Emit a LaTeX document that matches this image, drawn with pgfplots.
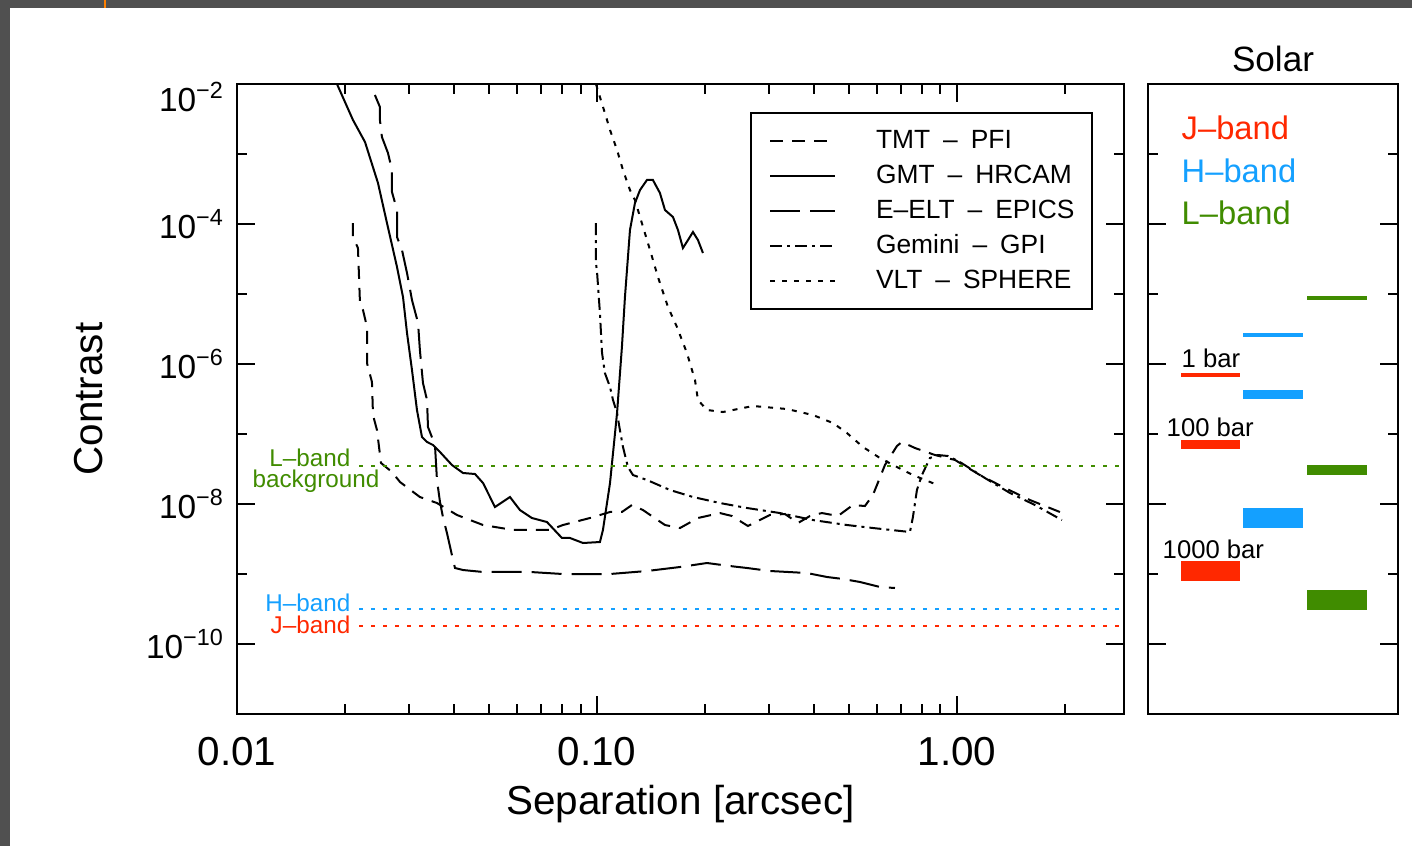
\documentclass[border=0pt]{standalone}
\usepackage{fontspec}
\setmainfont{Liberation Sans}
\usepackage{pgfplots}
\pgfplotsset{compat=1.18}
\definecolor{jred}{RGB}{255,40,0}
\definecolor{hblue}{RGB}{20,160,255}
\definecolor{lgreen}{RGB}{64,140,0}
\definecolor{frame}{RGB}{80,80,80}
\begin{document}
\begin{tikzpicture}
\useasboundingbox (0,0) rectangle (141.2mm,84.6mm);
\fill[white] (0,0) rectangle (141.2mm,84.6mm);
\fill[frame] (0,83.8mm) rectangle (141.2mm,84.6mm);
\fill[frame] (0,0) rectangle (1.0mm,84.6mm);
\fill[orange] (10.4mm,83.8mm) rectangle (10.6mm,84.6mm);
\begin{axis}[
  at={(23.7mm,13.2mm)}, anchor=south west,
  scale only axis, width=88.7mm, height=63mm,
  xmode=log, ymode=log,
  xmin=0.01, xmax=2.911, ymin=1e-11, ymax=1e-2,
  xtick={0.01,0.1,1}, xticklabels={0.01,0.10,1.00},
  minor xtick={0.02,0.03,0.04,0.05,0.06,0.07,0.08,0.09,0.2,0.3,0.4,0.5,0.6,0.7,0.8,0.9,2},
  ytick={1e-10,1e-8,1e-6,1e-4,1e-2},
  yticklabels={10\textsuperscript{−10},10\textsuperscript{−8},10\textsuperscript{−6},10\textsuperscript{−4},\raisebox{-1.3mm}[\height][\depth]{10\textsuperscript{−2}}},
  minor ytick={1e-9,1e-7,1e-5,1e-3},
  major tick length=1.8mm, minor tick length=1mm,
  tick align=inside,
  axis line style={line width=0.2mm},
  every tick/.style={black, line width=0.2mm},
  /pgf/number format/assume math mode=true,
  xticklabel style={font=\fontsize{11.5}{13}\selectfont, yshift=-1.1mm},
  yticklabel style={font=\fontsize{9.5}{11}\selectfont},
  xlabel={Separation [arcsec]}, ylabel={Contrast},
  label style={font=\fontsize{11.5}{13}\selectfont},
  xlabel style={yshift=0.5mm},
  ylabel style={yshift=1.9mm},
  legend style={at={(0.5784,0.9556)}, anchor=north west, draw=black, line width=0.2mm,
    inner xsep=1.8mm, inner ysep=1.6mm, font=\fontsize{7.5}{9}\selectfont,
    row sep=0.98mm, nodes={inner sep=0pt, text height=2.0mm, text depth=0.5mm},
    /tikz/every odd column/.append style={column sep=4mm}},
  legend cell align=left,
  legend image code/.code={\draw[#1] (0mm,0mm) -- (6.5mm,0mm);},
]
% TMT - PFI
\addplot[black, line width=0.2mm, dash pattern=on 1.3mm off 0.9mm] coordinates {
(0.02100,1.033e-4) (0.02100,6.52e-5) (0.02168,4.54e-5) (0.02196,7.43e-6) (0.02239,5.90e-6)
(0.02297,3.38e-6) (0.02297,1.033e-6) (0.02371,5.53e-7) (0.02387,1.866e-7) (0.02448,1.140e-7)
(0.02512,3.855e-8) (0.02695,2.864e-8) (0.02837,2.061e-8) (0.03222,1.259e-8) (0.03594,1.033e-8)
(0.04084,6.97e-9) (0.04825,5.01e-9) (0.05843,4.26e-9) (0.07402,4.26e-9) (0.08043,5.01e-9)
(0.09563,6.31e-9) (0.1087,7.69e-9) (0.1173,7.69e-9) (0.1251,9.68e-9) (0.1342,8.20e-9)
(0.1545,5.01e-9) (0.1701,4.54e-9) (0.1908,6.31e-9) (0.2196,7.43e-9) (0.2371,6.74e-9)
(0.2627,4.85e-9) (0.3024,6.97e-9) (0.3328,7.20e-9) (0.3617,5.35e-9) (0.3906,6.74e-9)
(0.4217,7.43e-9) (0.4671,6.74e-9) (0.5140,9.68e-9) (0.5551,9.36e-9) (0.5843,1.346e-8)
(0.5995,1.866e-8) (0.6310,3.61e-8) (0.6813,6.74e-8) (0.7035,7.69e-8) (0.7644,6.31e-8)
(0.8689,5.01e-8) (0.9873,4.26e-8) (1.158,2.594e-8) (1.359,1.694e-8) (1.595,1.140e-8) (1.932,7.69e-9)
};
\addlegendentry{\makebox[19.8mm][l]{TMT\hspace{1.3mm}–\hspace{1.3mm}PFI}}
% GMT - HRCAM
\addplot[black, line width=0.2mm, solid] coordinates {
(0.01896,1e-2) (0.02100,3.06e-3) (0.02268,1.483e-3) (0.02464,3.855e-4) (0.02610,1.033e-4)
(0.02783,2.432e-5) (0.02892,9.06e-6) (0.02967,2.773e-6) (0.03063,8.20e-7) (0.03162,2.203e-7)
(0.03265,9.06e-8) (0.03372,7.69e-8) (0.03503,6.97e-8) (0.03664,5.53e-8) (0.03955,3.61e-8)
(0.04245,2.773e-8) (0.04583,2.683e-8) (0.04825,1.995e-8) (0.05208,9.06e-9) (0.05732,1.259e-8)
(0.0611,8.20e-9) (0.06597,6.31e-9) (0.07262,5.53e-9) (0.07993,3.27e-9) (0.08414,3.27e-9)
(0.09145,2.773e-9) (0.1019,2.864e-9) (0.1039,4.26e-9) (0.1087,1.995e-8) (0.1137,1.995e-7)
(0.1173,1.750e-6) (0.1196,9.06e-6) (0.1235,8.20e-5) (0.1275,1.995e-4) (0.1317,3.06e-4)
(0.1377,4.26e-4) (0.1430,4.26e-4) (0.1496,2.773e-4) (0.1545,1.585e-4) (0.1626,1.259e-4)
(0.1679,8.20e-5) (0.1733,4.54e-5) (0.1790,5.90e-5) (0.1848,7.69e-5) (0.1908,5.90e-5) (0.1970,3.855e-5)
};
\addlegendentry{\makebox[19.8mm][l]{GMT\hspace{1.3mm}–\hspace{1.3mm}HRCAM}}
% E-ELT - EPICS
\addplot[black, line width=0.2mm, dash pattern=on 3mm off 1mm] coordinates {
(0.02416,6.97e-3) (0.02495,4.69e-3) (0.02495,3.06e-3) (0.02527,1.750e-3) (0.02627,1.033e-3)
(0.02695,5.90e-4) (0.02695,2.864e-4) (0.02783,1.585e-4) (0.02783,6.52e-5) (0.02873,4.26e-5)
(0.02967,1.995e-5) (0.03063,8.20e-6) (0.03184,3.855e-6) (0.03222,1.585e-6) (0.03286,5.36e-7)
(0.03372,3.06e-7) (0.03393,1.259e-7) (0.03548,6.97e-8) (0.03594,2.203e-8) (0.03664,1.069e-8)
(0.03734,6.52e-9) (0.03831,3.855e-9) (0.03955,1.866e-9) (0.04032,1.219e-9) (0.04245,1.140e-9)
(0.04825,1.069e-9) (0.06515,1.069e-9) (0.08043,1.0e-9) (0.1087,1.0e-9) (0.1377,1.104e-9)
(0.1701,1.259e-9) (0.2021,1.436e-9) (0.2341,1.300e-9) (0.2610,1.219e-9) (0.3024,1.104e-9)
(0.3831,1.033e-9) (0.4355,9.06e-10) (0.4825,8.49e-10) (0.5379,7.69e-10) (0.6110,6.52e-10) (0.6727,6.31e-10)
};
\addlegendentry{\makebox[19.8mm][l]{E–ELT\hspace{1.3mm}–\hspace{1.3mm}EPICS}}
% Gemini - GPI
\addplot[black, line width=0.2mm, dash pattern=on 1.2mm off 0.5mm on 0.3mm off 0.5mm] coordinates {
(0.09936,1.033e-4) (0.09936,2.773e-5) (0.1001,1.995e-5) (0.1019,5.36e-6) (0.1033,1.436e-6)
(0.1052,7.43e-7) (0.1087,4.69e-7) (0.1108,3.06e-7) (0.1137,1.995e-7) (0.1158,1.140e-7)
(0.1181,6.52e-8) (0.1219,3.38e-8) (0.1259,2.594e-8) (0.1377,2.203e-8) (0.1595,1.585e-8)
(0.1848,1.259e-8) (0.2196,1.033e-8) (0.2610,8.77e-9) (0.3222,7.43e-9) (0.3981,5.90e-9)
(0.4948,5.01e-9) (0.5843,4.54e-9) (0.7404,3.981e-9) (0.7547,6.52e-9) (0.7743,1.585e-8)
(0.7993,2.594e-8) (0.8414,4.54e-8) (0.8855,5.01e-8) (0.9441,4.85e-8) (1.019,3.981e-8)
(1.196,2.350e-8) (1.404,1.436e-8) (1.647,9.68e-9) (1.957,5.90e-9)
};
\addlegendentry{\makebox[19.8mm][l]{Gemini\hspace{1.3mm}–\hspace{1.3mm}GPI}}
% VLT - SPHERE
\addplot[black, line width=0.2mm, dash pattern=on 0.5mm off 0.7mm] coordinates {
(0.09936,1e-2) (0.1019,6.52e-3) (0.1052,3.855e-3) (0.1087,2.203e-3) (0.1137,1.140e-3)
(0.1181,5.90e-4) (0.1235,3.06e-4) (0.1275,2.203e-4) (0.1317,1.259e-4) (0.1404,4.26e-5)
(0.1477,1.750e-5) (0.1575,6.52e-6) (0.1668,3.38e-6) (0.1778,1.436e-6) (0.1872,5.90e-7)
(0.1908,3.06e-7) (0.2021,2.203e-7) (0.2239,2.061e-7) (0.2712,2.512e-7) (0.3372,2.275e-7)
(0.3981,1.866e-7) (0.4524,1.436e-7) (0.4948,1.033e-7) (0.5483,6.52e-8) (0.6110,4.54e-8)
(0.6813,3.38e-8) (0.7547,2.594e-8) (0.8689,1.932e-8)
};
\addlegendentry{\makebox[19.8mm][l]{VLT\hspace{1.3mm}–\hspace{1.3mm}SPHERE}}
% background / band limits
\addplot[lgreen, line width=0.2mm, dash pattern=on 0.4mm off 0.8mm, forget plot] coordinates {(0.02183,3.49e-8) (2.911,3.49e-8)};
\addplot[hblue, line width=0.2mm, dash pattern=on 0.4mm off 0.8mm, forget plot] coordinates {(0.02183,3.162e-10) (2.911,3.162e-10)};
\addplot[jred, line width=0.2mm, dash pattern=on 0.4mm off 0.8mm, forget plot] coordinates {(0.02183,1.81e-10) (2.911,1.81e-10)};
\end{axis}
% Solar panel
\begin{axis}[
  at={(114.8mm,13.2mm)}, anchor=south west,
  scale only axis, width=25mm, height=63mm,
  xmin=0, xmax=250, ymode=log, ymin=1e-11, ymax=1e-2,
  xtick=\empty,
  ytick={1e-10,1e-8,1e-6,1e-4,1e-2}, yticklabels={},
  minor ytick={1e-9,1e-7,1e-5,1e-3},
  major tick length=1.8mm, minor tick length=1mm,
  tick align=inside,
  axis line style={line width=0.2mm},
  every tick/.style={black, line width=0.2mm},
]
\addplot[jred, line width=0.4mm] coordinates {(33,6.97e-7) (92,6.97e-7)};
\addplot[jred, line width=0.95mm] coordinates {(33,7.08e-8) (92,7.08e-8)};
\addplot[jred, line width=2mm] coordinates {(33,1.11e-9) (92,1.11e-9)};
\addplot[hblue, line width=0.4mm] coordinates {(95,2.6e-6) (155,2.6e-6)};
\addplot[hblue, line width=0.95mm] coordinates {(95,3.64e-7) (155,3.64e-7)};
\addplot[hblue, line width=2mm] coordinates {(95,6.37e-9) (155,6.37e-9)};
\addplot[lgreen, line width=0.4mm] coordinates {(159,8.77e-6) (219,8.77e-6)};
\addplot[lgreen, line width=0.95mm] coordinates {(159,3.06e-8) (219,3.06e-8)};
\addplot[lgreen, line width=2mm] coordinates {(159,4.25e-10) (219,4.25e-10)};
\end{axis}
\begin{scope}[x=0.1mm, y=-0.1mm, yshift=84.6mm]
\node[anchor=base, font=\fontsize{10}{12}\selectfont] at (1273,72) {Solar};
\node[anchor=base west, text=jred, font=\fontsize{9.3}{11}\selectfont, inner sep=0pt] at (1181,140) {J–band};
\node[anchor=base west, text=hblue, font=\fontsize{9.3}{11}\selectfont, inner sep=0pt] at (1181,183) {H–band};
\node[anchor=base west, text=lgreen, font=\fontsize{9.3}{11}\selectfont, inner sep=0pt] at (1181,225) {L–band};
\node[anchor=base west, font=\fontsize{7.3}{9}\selectfont, inner sep=0pt] at (1181,368) {1 bar};
\node[anchor=base west, font=\fontsize{7.3}{9}\selectfont, inner sep=0pt] at (1166,437) {100 bar};
\node[anchor=base west, font=\fontsize{7.3}{9}\selectfont, inner sep=0pt] at (1162,558) {1000 bar};
\node[anchor=base east, text=lgreen, font=\fontsize{6.9}{8}\selectfont, inner sep=0pt] at (351,466) {L–band};
\node[anchor=base, text=lgreen, font=\fontsize{6.9}{8}\selectfont, inner sep=0pt] at (316,488) {background};
\node[anchor=base east, text=hblue, font=\fontsize{6.9}{8}\selectfont, inner sep=0pt] at (351,611) {H–band};
\node[anchor=base east, text=jred, font=\fontsize{6.9}{8}\selectfont, inner sep=0pt] at (351,633) {J–band};
\end{scope}
\end{tikzpicture}
\end{document}
